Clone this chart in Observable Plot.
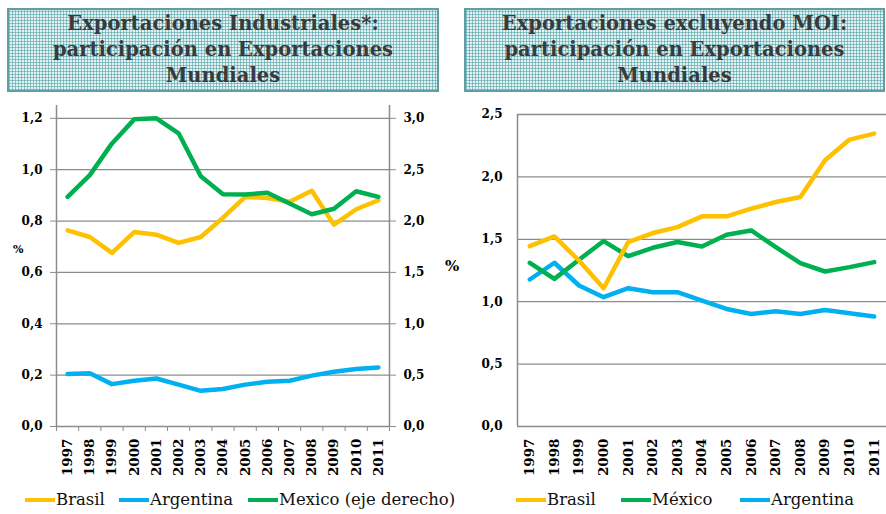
<!DOCTYPE html>
<html><head><meta charset="utf-8">
<script src="https://cdn.jsdelivr.net/npm/d3@7"></script>
<script src="https://cdn.jsdelivr.net/npm/@observablehq/plot@0.6"></script>
<style>
body{margin:0;width:886px;height:514px;position:relative;background:#fff;overflow:hidden;font-family:"DejaVu Serif","Liberation Serif",serif}
.title{position:absolute;top:8px;height:84px;border:2px solid #5d9fa5;box-sizing:border-box;display:flex;align-items:center;justify-content:center;text-align:center;font-family:"DejaVu Serif","Liberation Serif",serif;font-weight:bold;font-size:19.5px;line-height:26px;color:#3a3a3a;
background-color:#e3f1f2;
background-image:repeating-linear-gradient(90deg, rgba(72,158,163,.55) 0 1px, transparent 1px 3px),repeating-linear-gradient(0deg, rgba(72,158,163,.55) 0 1px, transparent 1px 3px);}
.chart{position:absolute;top:95px}
.pct{position:absolute;font-weight:bold;color:#000;font-family:"DejaVu Serif","Liberation Serif",serif}
.leg{position:absolute;top:490px;font-size:16.5px;font-family:"DejaVu Serif","Liberation Serif",serif;color:#111;white-space:nowrap;display:flex;align-items:center}
.leg span.sw{display:inline-block;width:30px;height:4px;margin-right:1px}
</style></head>
<body>
<div class="title" style="left:7px;width:432px">Exportaciones Industriales*:<br>participación en Exportaciones<br>Mundiales</div>
<div class="title" style="left:464px;width:421px">Exportaciones excluyendo MOI:<br>participación en Exportaciones<br>Mundiales</div>
<div id="c1" class="chart" style="left:0px"></div>
<div id="c2" class="chart" style="left:443px"></div>
<div class="pct" style="left:13px;top:243px;font-size:11px">%</div>
<div class="pct" style="left:445px;top:257px;font-size:15px">%</div>
<div id="leg1"></div>
<div id="leg2"></div>
<script>
const years = [1997,1998,1999,2000,2001,2002,2003,2004,2005,2006,2007,2008,2009,2010,2011];
// Left chart: Exportaciones Industriales (%)
const brasilInd    = [0.764,0.738,0.676,0.757,0.747,0.715,0.738,0.813,0.894,0.890,0.875,0.918,0.786,0.846,0.881];
const argentinaInd = [0.204,0.207,0.165,0.178,0.187,0.163,0.139,0.146,0.163,0.174,0.178,0.198,0.213,0.224,0.230];
const mexicoInd    = [2.236,2.447,2.756,2.990,3.000,2.854,2.437,2.262,2.258,2.275,2.170,2.066,2.120,2.290,2.236]; // right axis
// Right chart: Exportaciones excluyendo MOI (%)
const brasilMOI    = [1.445,1.523,1.330,1.108,1.478,1.550,1.598,1.684,1.684,1.745,1.799,1.839,2.133,2.299,2.347];
const mexicoMOI    = [1.312,1.183,1.336,1.486,1.365,1.432,1.478,1.443,1.536,1.571,1.437,1.309,1.242,1.277,1.317];
const argentinaMOI = [1.178,1.312,1.130,1.036,1.108,1.076,1.076,1.009,0.942,0.902,0.923,0.902,0.934,0.907,0.881];

const leftTicks  = [0,0.2,0.4,0.6,0.8,1.0,1.2];
const moiTicks   = [0,0.5,1.0,1.5,2.0,2.5];

const C = {Brasil:"#FFC000", Argentina:"#00B0F0", Mexico:"#00B050"};
const GRID = "#8c8c8c";
const fmt = d => d.toFixed(1).replace(".", ",");
const ratio = 3.0 / 1.2;
const bounds = d3.range(years.length + 1).map(i => years[0] - 0.5 + i);

function series(name, vals, scale = 1) {
  return years.map((y, i) => ({year: y, value: vals[i] / scale, name}));
}

const tickStyle = {fontWeight: "bold", fontSize: 12, fill: "#000", label: null};
const svgStyle = {fontFamily: "'DejaVu Serif', 'Liberation Serif', serif", overflow: "visible", background: "transparent"};

const p1 = Plot.plot({
  width: 443, height: 385,
  marginTop: 10, marginBottom: 54, marginLeft: 56, marginRight: 54,
  style: svgStyle,
  x: {type: "linear", domain: [bounds[0], bounds[bounds.length-1]], axis: null},
  y: {domain: [0, 1.25], axis: null},
  marks: [
    Plot.gridY(leftTicks.slice(1), {stroke: GRID, strokeOpacity: 1, strokeWidth: 1.3}),
    Plot.ruleY([0], {stroke: GRID, strokeWidth: 1.5}),
    Plot.ruleX([bounds[0], bounds[bounds.length-1]], {y1: 0, y2: 1.25, stroke: GRID, strokeWidth: 1.5}),
    Plot.axisY({ticks: leftTicks, tickSize: 6, tickPadding: 8, tickFormat: fmt, stroke: GRID, ...tickStyle}),
    Plot.axisY({anchor: "right", ticks: leftTicks, tickSize: 6, tickPadding: 8, tickFormat: d => fmt(d * ratio), stroke: GRID, ...tickStyle}),
    Plot.axisX({ticks: bounds, tickSize: 5, tickFormat: () => "", stroke: GRID, label: null}),
    Plot.axisX({ticks: years, tickSize: 0, tickPadding: 12, tickRotate: -90, tickFormat: d => String(d), ...tickStyle, fontSize: 13.5}),
    Plot.line(series("Argentina", argentinaInd), {x: "year", y: "value", stroke: C.Argentina, strokeWidth: 4.5}),
    Plot.line(series("Brasil", brasilInd), {x: "year", y: "value", stroke: C.Brasil, strokeWidth: 4.5}),
    Plot.line(series("Mexico", mexicoInd, ratio), {x: "year", y: "value", stroke: C.Mexico, strokeWidth: 4.5})
  ]
});
document.getElementById("c1").appendChild(p1);

const p2 = Plot.plot({
  width: 443, height: 385,
  marginTop: 19, marginBottom: 54, marginLeft: 74, marginRight: 0,
  style: svgStyle,
  x: {type: "linear", domain: [bounds[0], bounds[bounds.length-1]], axis: null},
  y: {domain: [0, 2.5], axis: null},
  marks: [
    Plot.gridY(moiTicks.slice(1), {stroke: GRID, strokeOpacity: 1, strokeWidth: 1.3}),
    Plot.ruleY([0], {stroke: GRID, strokeWidth: 1.5}),
    Plot.ruleX([bounds[0]], {y1: 0, y2: 2.5, stroke: GRID, strokeWidth: 1.5}),
    Plot.axisY({ticks: moiTicks, tickSize: 0, tickPadding: 15, tickFormat: fmt, ...tickStyle}),
    Plot.axisX({ticks: years, tickSize: 0, tickPadding: 12, tickRotate: -90, tickFormat: d => String(d), ...tickStyle, fontSize: 13.5}),
    Plot.line(series("Argentina", argentinaMOI), {x: "year", y: "value", stroke: C.Argentina, strokeWidth: 4.5}),
    Plot.line(series("Mexico", mexicoMOI), {x: "year", y: "value", stroke: C.Mexico, strokeWidth: 4.5}),
    Plot.line(series("Brasil", brasilMOI), {x: "year", y: "value", stroke: C.Brasil, strokeWidth: 4.5})
  ]
});
document.getElementById("c2").appendChild(p2);

const legend1 = [["Brasil", C.Brasil, 25], ["Argentina", C.Argentina, 119], ["Mexico (eje derecho)", C.Mexico, 248]];
const legend2 = [["Brasil", C.Brasil, 516], ["México", C.Mexico, 621], ["Argentina", C.Argentina, 740]];
for (const [id, items] of [["leg1", legend1], ["leg2", legend2]]) {
  const host = document.getElementById(id);
  for (const [label, color, left] of items) {
    const d = document.createElement("div");
    d.className = "leg";
    d.style.left = left + "px";
    d.innerHTML = `<span class="sw" style="background:${color}"></span>${label}`;
    host.appendChild(d);
  }
}
</script>
</body></html>
